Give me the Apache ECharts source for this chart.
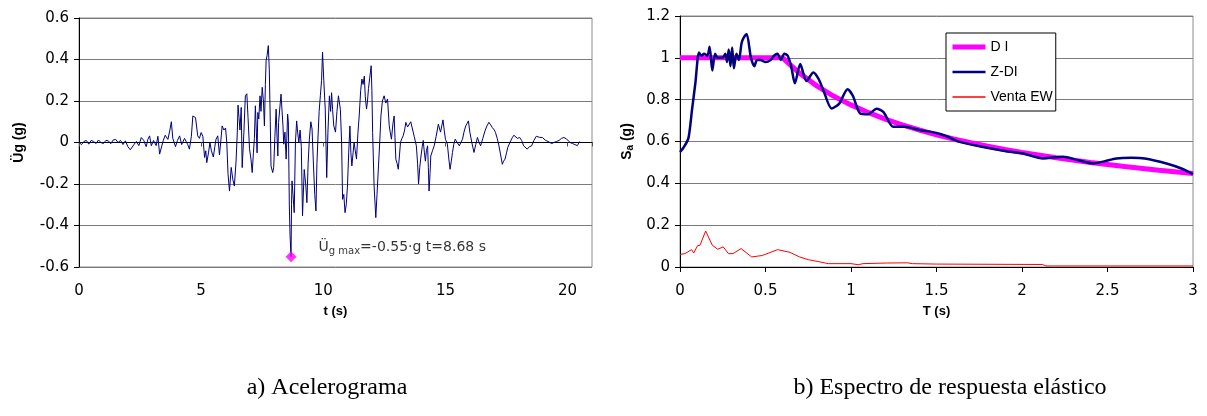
<!DOCTYPE html>
<html><head><meta charset="utf-8">
<script src="https://cdn.jsdelivr.net/npm/echarts@6/dist/echarts.min.js"></script>
<style>html,body{margin:0;padding:0;background:#fff}#c{width:1207px;height:416px}</style>
</head><body><div id="c"></div>
<script>
// ---- a) Acelerograma ----
const accT = [0.0,0.1,0.2,0.3,0.4,0.5,0.6,0.7,0.8,0.9,1.0,1.1,1.2,1.3,1.4,1.5,1.6,1.7,1.8,1.9,2.0,2.1,2.15,2.25,2.35,2.45,2.55,2.65,2.75,2.82,2.89,2.96,3.05,3.16,3.23,3.3,3.37,3.45,3.53,3.64,3.72,3.78,3.84,3.95,4.03,4.12,4.2,4.25,4.32,4.39,4.45,4.52,4.6,4.66,4.72,4.77,4.86,4.93,5.0,5.07,5.14,5.19,5.23,5.3,5.36,5.42,5.5,5.56,5.61,5.68,5.75,5.8,5.86,5.93,6.0,6.05,6.1,6.16,6.23,6.3,6.36,6.43,6.48,6.51,6.55,6.59,6.64,6.68,6.71,6.75,6.81,6.87,6.92,6.98,7.04,7.09,7.14,7.18,7.22,7.26,7.29,7.32,7.36,7.41,7.45,7.5,7.55,7.59,7.63,7.66,7.7,7.75,7.79,7.83,7.86,7.93,7.97,8.02,8.07,8.1,8.14,8.17,8.21,8.27,8.31,8.35,8.38,8.43,8.48,8.54,8.57,8.61,8.64,8.68,8.7,8.72,8.76,8.81,8.86,8.91,8.95,9.0,9.05,9.1,9.15,9.22,9.28,9.33,9.38,9.43,9.49,9.54,9.6,9.65,9.7,9.74,9.78,9.83,9.88,9.93,9.97,10.02,10.08,10.14,10.19,10.25,10.3,10.34,10.38,10.43,10.5,10.56,10.62,10.7,10.75,10.79,10.84,10.89,10.94,10.99,11.04,11.09,11.13,11.17,11.22,11.26,11.31,11.36,11.42,11.47,11.53,11.58,11.63,11.68,11.72,11.77,11.81,11.85,11.9,11.96,11.99,12.02,12.08,12.15,12.2,12.26,12.31,12.36,12.42,12.49,12.56,12.63,12.7,12.74,12.79,12.85,12.9,12.97,13.02,13.07,13.12,13.16,13.22,13.27,13.33,13.38,13.45,13.52,13.58,13.65,13.72,13.81,13.86,13.9,13.95,14.0,14.05,14.09,14.14,14.18,14.22,14.27,14.3,14.33,14.37,14.4,14.47,14.54,14.62,14.71,14.8,14.85,14.9,14.95,15.0,15.08,15.14,15.19,15.24,15.29,15.34,15.4,15.48,15.57,15.63,15.7,15.76,15.83,15.88,15.94,16.0,16.08,16.17,16.24,16.31,16.38,16.44,16.53,16.62,16.7,16.78,16.85,16.92,17.0,17.05,17.12,17.19,17.26,17.33,17.38,17.44,17.5,17.55,17.64,17.74,17.8,17.87,17.95,18.04,18.12,18.2,18.28,18.35,18.44,18.53,18.62,18.72,18.85,18.97,19.1,19.2,19.27,19.35,19.44,19.55,19.65,19.75,19.85,19.95,20.03,20.1,20.2,20.3,20.4,20.5];
const accG = [0.0,-0.01,0.005,0.01,-0.008,0.01,0.005,-0.005,0.012,0.0,-0.005,0.01,0.008,-0.006,0.012,0.015,0.0,0.01,-0.01,0.008,-0.02,-0.035,-0.04,-0.01,0.005,-0.015,0.024,0.01,-0.02,0.015,0.032,-0.016,0.01,-0.015,0.03,-0.056,-0.05,0.01,0.035,0.015,0.06,0.1,0.02,-0.02,0.01,0.032,-0.01,-0.016,0.02,0.025,-0.01,-0.032,0.03,0.128,0.13,0.12,0.032,0.02,0.048,0.03,-0.072,-0.04,-0.097,-0.05,0.0,-0.04,-0.07,-0.02,0.016,0.032,-0.06,0.0,0.08,0.06,0.07,0.0,-0.15,-0.234,-0.12,-0.18,-0.21,-0.089,0.05,0.18,0.12,0.06,0.169,-0.121,-0.05,0.05,0.225,0.235,0.12,-0.03,-0.08,-0.145,-0.05,0.02,0.177,0.05,-0.05,0.145,0.113,0.225,0.15,0.266,0.2,0.08,0.28,0.394,0.42,0.467,0.35,0.1,-0.113,-0.145,-0.12,0.03,0.161,0.05,-0.065,0.097,0.1,0.233,0.225,0.08,-0.008,0.05,-0.08,0.137,0.1,-0.306,-0.45,-0.55,-0.3,-0.185,-0.25,-0.338,0.0,0.104,0.05,0.0,0.06,-0.02,-0.354,-0.13,-0.2,-0.29,-0.1,0.016,0.1,0.065,-0.113,-0.25,-0.33,-0.1,0.016,0.15,0.225,0.3,0.435,0.3,0.161,-0.169,0.05,0.225,0.15,0.24,0.16,0.08,0.05,0.15,0.225,0.16,0.0,-0.274,-0.25,-0.338,-0.3,-0.21,-0.05,0.08,-0.05,-0.113,-0.05,0.0,-0.04,-0.08,0.05,0.128,0.25,0.306,0.28,0.32,0.22,0.161,0.2,0.26,0.31,0.37,0.25,0.048,-0.21,-0.362,-0.25,-0.113,0.0,0.128,0.2,0.225,0.19,0.21,0.08,0.05,0.016,0.09,0.128,-0.08,-0.1,-0.129,-0.06,0.0,0.02,0.032,0.06,0.097,0.075,0.08,0.1,0.104,0.03,-0.016,-0.1,-0.2,-0.12,-0.065,-0.02,0.01,-0.05,-0.09,-0.04,-0.016,-0.12,-0.234,-0.15,-0.065,-0.04,-0.016,0.03,0.088,0.05,0.08,0.109,0.06,0.016,-0.008,-0.08,-0.129,-0.09,-0.048,-0.01,0.016,0.0,-0.016,0.0,0.016,0.05,0.08,0.09,0.104,0.05,0.0,-0.048,-0.01,0.024,0.0,-0.016,0.02,0.056,0.08,0.097,0.085,0.072,0.06,0.048,0.02,-0.016,-0.06,-0.105,-0.09,-0.08,-0.05,-0.024,0.0,0.024,0.035,0.032,0.02,0.024,0.01,-0.016,-0.025,-0.032,-0.02,-0.016,0.01,0.03,0.025,0.024,0.01,0.005,0.0,-0.005,0.0,0.005,0.01,0.02,0.024,0.018,0.01,0.0,-0.005,-0.01,-0.015,0.005];
const peakT = [8.68];
const peakG = [-0.55];

// ---- b) Espectro ----
const diT  = [0,0.6,0.7,0.8,0.9,1.0,1.1,1.2,1.3,1.4,1.5,1.6,1.7,1.8,1.9,2.0,2.2,2.4,2.6,2.8,3.0];
const diSa = [1.0,1.0,0.926,0.866,0.816,0.775,0.739,0.707,0.679,0.655,0.632,0.612,0.594,0.577,0.562,0.548,0.522,0.5,0.48,0.463,0.447];
const zdiT  = [0,0.02,0.049,0.07,0.09,0.111,0.125,0.142,0.16,0.173,0.189,0.205,0.22,0.235,0.25,0.265,0.275,0.285,0.295,0.305,0.315,0.33,0.345,0.36,0.375,0.39,0.415,0.435,0.45,0.47,0.5,0.53,0.55,0.57,0.59,0.61,0.63,0.65,0.672,0.703,0.74,0.78,0.81,0.84,0.886,0.93,0.98,1.01,1.054,1.1,1.15,1.19,1.247,1.315,1.4,1.5,1.56,1.636,1.773,1.9,2.006,2.123,2.24,2.33,2.416,2.48,2.552,2.64,2.718,2.845,2.932,3.0];
const zdiSa = [0.55,0.57,0.615,0.75,0.88,1.026,1.01,1.02,1.01,1.053,0.94,1.02,1.0,1.0,1.0,1.02,0.98,1.04,0.96,1.05,0.95,1.02,0.99,1.07,1.1,1.114,1.0,0.96,0.99,0.99,0.98,0.99,1.01,1.02,0.99,1.02,1.01,0.96,0.878,0.97,0.889,0.93,0.9,0.842,0.758,0.78,0.85,0.82,0.734,0.73,0.757,0.74,0.67,0.67,0.655,0.641,0.625,0.598,0.574,0.555,0.543,0.519,0.527,0.51,0.495,0.505,0.519,0.522,0.519,0.495,0.471,0.444];
const ewT  = [0,0.029,0.04,0.068,0.08,0.103,0.117,0.15,0.16,0.189,0.22,0.253,0.283,0.31,0.357,0.419,0.481,0.571,0.643,0.70,0.75,0.808,0.867,1.0,1.042,1.07,1.208,1.33,1.36,1.5,2.12,2.14,3.0];
const ewSa = [0.06,0.064,0.059,0.083,0.067,0.102,0.104,0.172,0.17,0.104,0.085,0.096,0.064,0.064,0.088,0.048,0.055,0.083,0.07,0.048,0.035,0.026,0.016,0.016,0.011,0.016,0.019,0.02,0.016,0.014,0.012,0.005,0.005];

const zip = (a,b)=>a.map((v,i)=>[v,b[i]]);
const F = 'Liberation Sans, Arial, sans-serif';
const FD = 'DejaVu Sans, sans-serif';
const gridLine = {show:true,lineStyle:{color:'#7a7a7a',width:1}};
const yLine = {show:true,onZero:false,lineStyle:{color:'#000',width:1}};
const lab = {color:'#000',fontFamily:FD,fontSize:15};

const chart = echarts.init(document.getElementById('c'),null,{renderer:'canvas'});
chart.setOption({
  animation:false,
  backgroundColor:'#fff',
  grid:[
    {left:79,top:18,width:513,height:249,show:true,borderColor:'#8c8c8c',borderWidth:1,backgroundColor:'#fff'},
    {left:680,top:16,width:513,height:251,show:true,borderColor:'#8c8c8c',borderWidth:1,backgroundColor:'#fff'}
  ],
  xAxis:[
    {gridIndex:0,type:'value',min:0,max:21,interval:5,
     axisLine:{show:false,onZero:false},axisTick:{show:false},splitLine:{show:false},
     axisLabel:Object.assign({margin:17,formatter:v=>(v%5===0?String(v):'')},lab),
     name:'t (s)',nameLocation:'middle',nameGap:38,
     nameTextStyle:{fontFamily:F,fontSize:13,fontWeight:'bold',color:'#000'}},
    {gridIndex:0,type:'value',min:0,max:21,interval:5,position:'bottom',
     axisLine:{show:true,onZero:true,lineStyle:{color:'#000',width:1.2}},
     axisTick:{show:true,length:4,lineStyle:{color:'#555'}},axisLabel:{show:false},splitLine:{show:false}},
    {gridIndex:1,type:'value',min:0,max:3,interval:0.5,
     axisLine:{show:true,onZero:false,lineStyle:{color:'#000',width:1}},
     axisTick:{show:true,length:5,lineStyle:{color:'#000'}},splitLine:{show:false},
     axisLabel:Object.assign({margin:17},lab),
     name:'T (s)',nameLocation:'middle',nameGap:38,
     nameTextStyle:{fontFamily:F,fontSize:13,fontWeight:'bold',color:'#000'}}
  ],
  yAxis:[
    {gridIndex:0,type:'value',min:-0.6,max:0.6,interval:0.2,
     axisLine:yLine,axisTick:{show:true,length:5,lineStyle:{color:'#000'}},
     splitLine:gridLine,axisLabel:Object.assign({margin:10},lab),
     name:'{b|Üg (g)}',nameLocation:'middle',nameRotate:90,nameGap:53,
     nameTextStyle:{rich:{b:{fontFamily:F,fontSize:14,fontWeight:'bold',color:'#000'}}}},
    {gridIndex:1,type:'value',min:0,max:1.2,interval:0.2,
     axisLine:yLine,axisTick:{show:true,length:5,lineStyle:{color:'#000'}},
     splitLine:gridLine,axisLabel:Object.assign({margin:10},lab),
     name:'{b|S}{s|a}{b| (g)}',nameLocation:'middle',nameRotate:90,nameGap:45,
     nameTextStyle:{rich:{b:{fontFamily:F,fontSize:14,fontWeight:'bold',color:'#000'},
                          s:{fontFamily:F,fontSize:10,fontWeight:'bold',color:'#000',padding:[6,0,0,0]}}}}
  ],
  legend:{
    data:[
      {name:'D I',lineStyle:{width:5}},
      {name:'Z-DI',lineStyle:{width:2.5}},
      {name:'Venta EW',lineStyle:{width:1.5}}
    ],
    orient:'vertical',left:946,top:33,
    backgroundColor:'#fff',borderColor:'#000',borderWidth:1,
    padding:[7,3,7,4],itemGap:11,itemWidth:33,itemHeight:14,
    itemStyle:{opacity:0},
    textStyle:{fontFamily:F,fontSize:14,color:'#000'}
  },
  series:[
    {type:'line',xAxisIndex:0,yAxisIndex:0,data:zip(accT,accG),symbol:'none',
     lineStyle:{color:'#000080',width:1},itemStyle:{color:'#000080'},z:3},
    {type:'scatter',xAxisIndex:0,yAxisIndex:0,data:zip(peakT,peakG),symbol:'diamond',symbolSize:11,
     itemStyle:{color:'#ff00ff'},z:5,
     label:{show:true,position:'right',distance:22,offset:[0,-9],
       formatter:'{a|Ü}{s|g max}{a|=-0.55·g t=8.68 s}',
       rich:{a:{fontFamily:FD,fontSize:14,color:'#000'},s:{fontFamily:FD,fontSize:10,color:'#000',padding:[8,0,0,0]}}}},
    {name:'D I',type:'line',xAxisIndex:2,yAxisIndex:1,data:zip(diT,diSa),symbol:'none',
     lineStyle:{color:'#ff00ff',width:5},itemStyle:{color:'#ff00ff'},z:2},
    {name:'Z-DI',type:'line',xAxisIndex:2,yAxisIndex:1,data:zip(zdiT,zdiSa),symbol:'none',smooth:0.25,
     lineStyle:{color:'#000080',width:2.5},itemStyle:{color:'#000080'},z:3},
    {name:'Venta EW',type:'line',xAxisIndex:2,yAxisIndex:1,data:zip(ewT,ewSa),symbol:'none',
     lineStyle:{color:'#ff0000',width:1},itemStyle:{color:'#ff0000'},z:3}
  ],
  graphic:[
    {type:'text',x:327,y:388,style:{text:'a) Acelerograma',font:'24px "Liberation Serif", "Times New Roman", serif',fill:'#000',align:'center',verticalAlign:'middle'}},
    {type:'text',x:950,y:388,style:{text:'b) Espectro de respuesta elástico',font:'24px "Liberation Serif", "Times New Roman", serif',fill:'#000',align:'center',verticalAlign:'middle'}}
  ]
});
</script></body></html>
